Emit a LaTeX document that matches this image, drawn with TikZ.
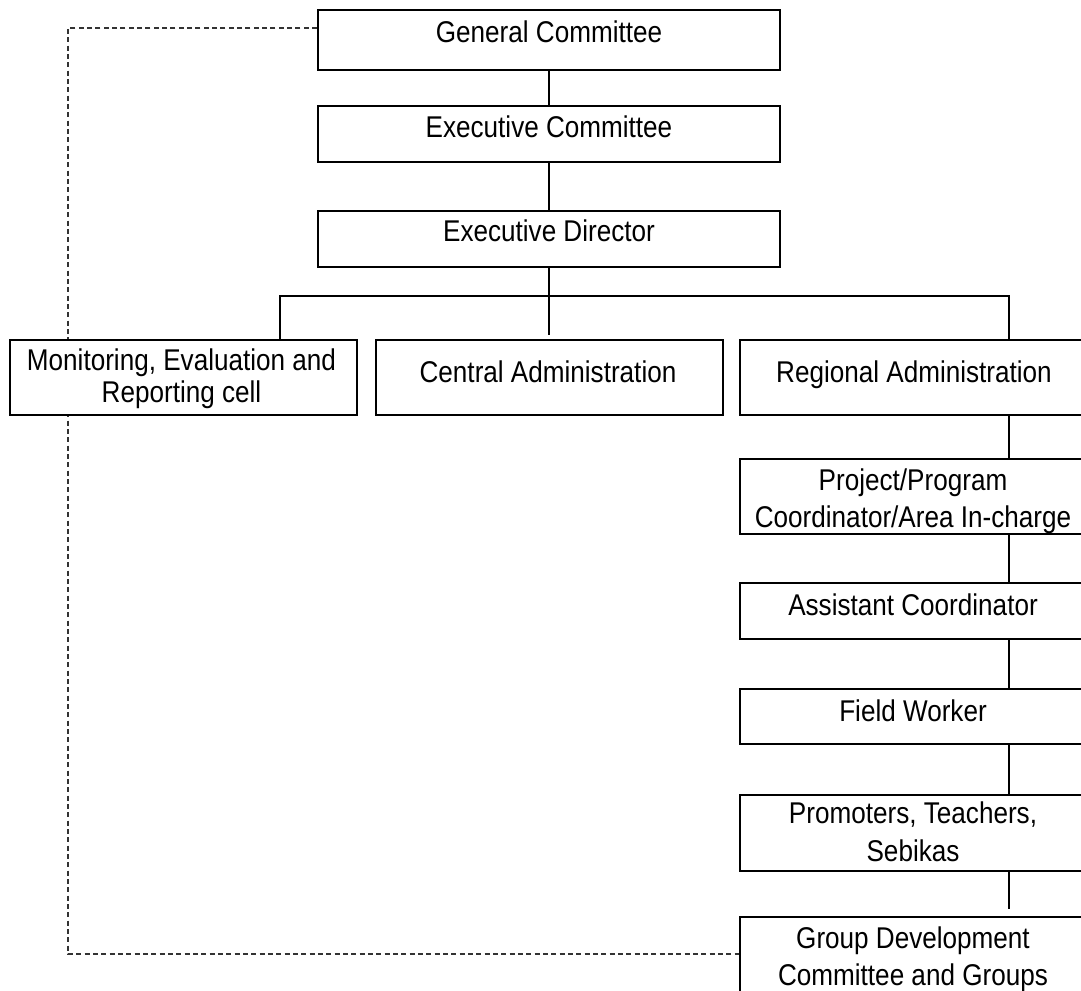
\documentclass[tikz,border=0pt]{standalone}
\usepackage{fontspec}
\setmainfont{Liberation Sans}[FakeStretch=0.87]
\pgfdeclarelayer{background}
\pgfsetlayers{background,main}
\begin{document}
\begin{tikzpicture}[x=0.75pt, y=-0.75pt,
  box/.style={draw=black, line width=1.5pt, fill=white, inner sep=0pt},
  sz/.style 2 args={minimum width=#1*0.75pt, minimum height=#2*0.75pt},
  lbl/.style={inner sep=0pt, align=center, font=\fontsize{22.5}{28}\selectfont},
  tightlbl/.style={lbl, font=\fontsize{22.5}{24}\selectfont},
  link/.style={draw=black, line width=1pt},
  report/.style={draw=black!80, line width=0.8pt, dash pattern=on 3.75pt off 2.5pt}
]
\useasboundingbox (0,0) rectangle (1081,991);
\clip (0,0) rectangle (1081,991);

% bends of the dashed reporting line
\coordinate (repTop) at (68,28);
\coordinate (repBot) at (68,954);
% horizontal bus under the Executive Director
\coordinate (busL) at (280,296);
\coordinate (busR) at (1009,296);
\coordinate (midEnd) at (549,335);

% boxes
\node[box, sz={462}{60}] (gc) at (549,40) {};
\node[box, sz={462}{56}] (ec) at (549,134) {};
\node[box, sz={462}{56}] (ed) at (549,239) {};
\node[box, sz={347}{75}] (mer) at (183.5,377.5) {};
\node[box, sz={347}{75}] (ca) at (549.5,377.5) {};
\node[box, sz={346}{75}] (ra) at (913,377.5) {};
\node[box, sz={346}{75}] (pc) at (913,496.5) {};
\node[box, sz={346}{56}] (ac) at (913,611) {};
\node[box, sz={346}{55}] (fw) at (913,716.5) {};
\node[box, sz={346}{76}] (pt) at (913,833) {};
\node[box, sz={346}{83}] (gd) at (913,958.5) {};

% labels
\node[lbl, anchor=base] (gc-t) at (549,42.3) {General Committee};
\node[lbl, anchor=base] (ec-t) at (549,137.3) {Executive Committee};
\node[lbl, anchor=base] (ed-t) at (549,242) {Executive Director};
\node[tightlbl, anchor=center] (mer-t) at (181.5,378.4) {Monitoring, Evaluation and\\Reporting cell};
\node[lbl, anchor=base] (ca-t) at (548,382) {Central Administration};
\node[lbl, anchor=base] (ra-t) at (914,382) {Regional Administration};
\node[lbl, anchor=center] (pc-t) at (913,501.5) {Project/Program\\Coordinator/Area In-charge};
\node[lbl, anchor=base] (ac-t) at (913,615) {Assistant Coordinator};
\node[lbl, anchor=base] (fw-t) at (913,721.7) {Field Worker};
\node[lbl, anchor=center] (pt-t) at (913,831.8) {Promoters, Teachers,\\Sebikas};
\node[lbl, anchor=center] (gd-t) at (913,959) {Group Development\\Committee and Groups};

% reporting line, kept behind the boxes
\begin{pgfonlayer}{background}
\draw[report] (gc.west |- repTop) -- (repTop) -- (repBot) -- (gd.west |- repBot);
\end{pgfonlayer}

% connectors
\draw[link] (gc) -- (ec);
\draw[link] (ec) -- (ed);
\draw[link] (ed) -- (midEnd);
\draw[link] (busL |- mer.north) -- (busL) -- (busR) -- (busR |- ra.north);
\draw[link] (ra.south -| busR) -- (pc.north -| busR);
\draw[link] (pc.south -| busR) -- (ac.north -| busR);
\draw[link] (ac.south -| busR) -- (fw.north -| busR);
\draw[link] (fw.south -| busR) -- (pt.north -| busR);
\draw[link] (pt.south -| busR) -- ([yshift=5.25pt]gd.north -| busR);
\end{tikzpicture}
\end{document}
